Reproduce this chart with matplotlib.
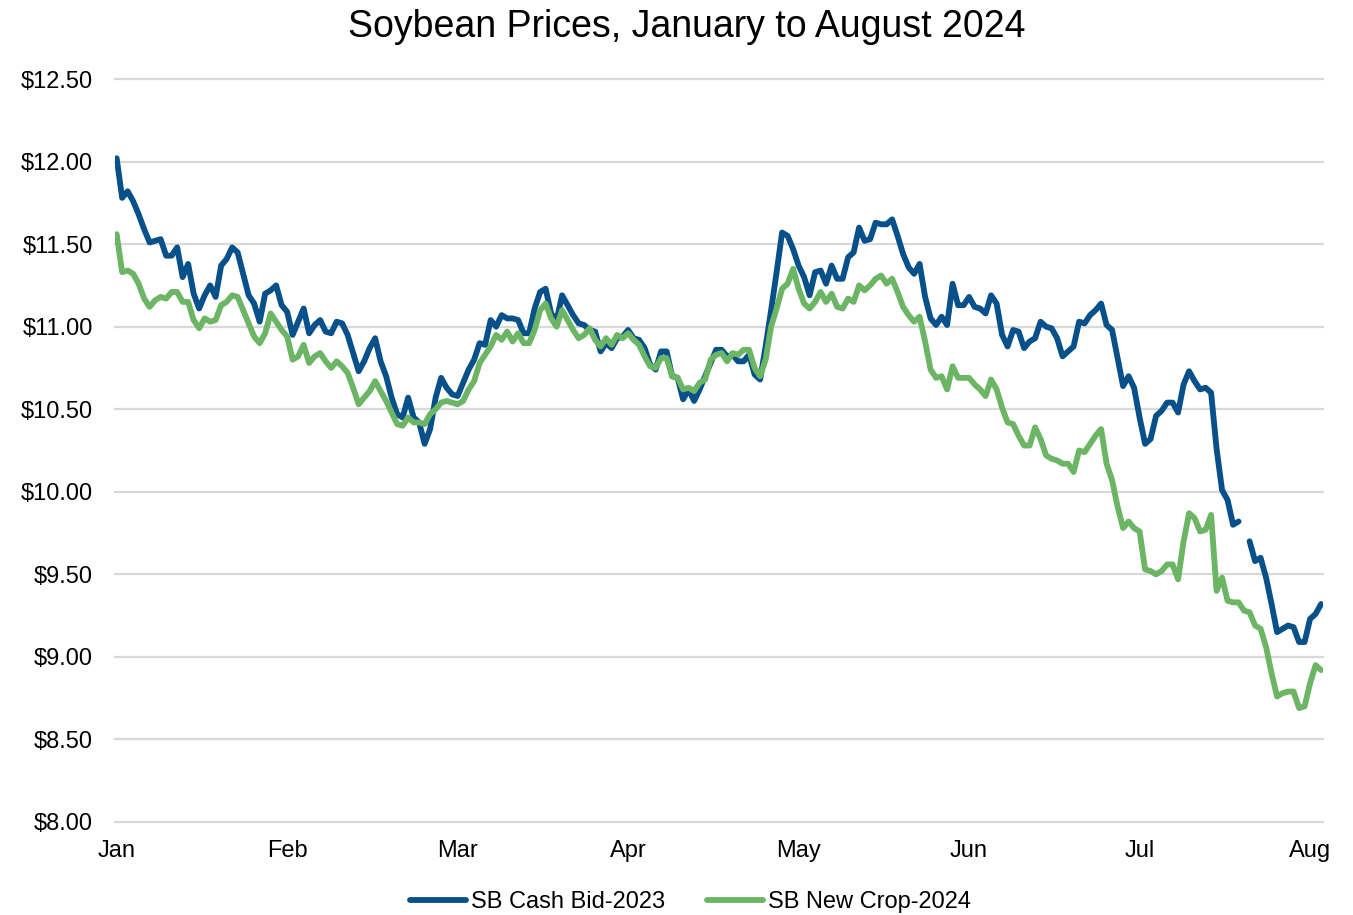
import numpy as np
import matplotlib
matplotlib.use("Agg")
import matplotlib.pyplot as plt

title = "Soybean Prices, January to August 2024"
series_names = ["SB Cash Bid-2023", "SB New Crop-2024"]
month_labels = ["Jan", "Feb", "Mar", "Apr", "May", "Jun", "Jul", "Aug"]
month_tick_index = [0, 31, 62, 93, 124, 155, 186, 217]
y_ticks = [8.0, 8.5, 9.0, 9.5, 10.0, 10.5, 11.0, 11.5, 12.0, 12.5]

cash_bid_2023 = [
    12.02, 11.78, 11.82, 11.76, 11.68, 11.59, 11.51, 11.52, 11.53, 11.43,
    11.43, 11.48, 11.30, 11.38, 11.20, 11.11, 11.19, 11.25, 11.18, 11.37,
    11.41, 11.48, 11.45, 11.32, 11.19, 11.14, 11.03, 11.20, 11.22, 11.25,
    11.13, 11.09, 10.95, 11.03, 11.11, 10.96, 11.01, 11.04, 10.97, 10.96,
    11.03, 11.02, 10.95, 10.84, 10.73, 10.79, 10.87, 10.93, 10.79, 10.70,
    10.57, 10.47, 10.45, 10.57, 10.45, 10.42, 10.29, 10.38, 10.57, 10.69,
    10.63, 10.59, 10.58, 10.66, 10.74, 10.80, 10.90, 10.89, 11.04, 11.00,
    11.07, 11.05, 11.05, 11.04, 10.96, 10.96, 11.11, 11.21, 11.23, 11.08,
    11.04, 11.19, 11.13, 11.07, 11.02, 11.01, 10.98, 10.97, 10.85, 10.90,
    10.87, 10.93, 10.94, 10.98, 10.93, 10.92, 10.87, 10.77, 10.74, 10.85,
    10.85, 10.70, 10.69, 10.56, 10.62, 10.55, 10.62, 10.70, 10.78, 10.86,
    10.86, 10.82, 10.83, 10.79, 10.79, 10.83, 10.71, 10.68, 10.88, 11.10,
    11.33, 11.57, 11.55, 11.47, 11.37, 11.30, 11.19, 11.33, 11.34, 11.26,
    11.37, 11.29, 11.29, 11.42, 11.45, 11.60, 11.52, 11.53, 11.63, 11.62,
    11.62, 11.65, 11.55, 11.44, 11.36, 11.32, 11.38, 11.18, 11.05, 11.01,
    11.06, 11.01, 11.26, 11.13, 11.13, 11.18, 11.12, 11.11, 11.08, 11.19,
    11.14, 10.95, 10.88, 10.98, 10.97, 10.87, 10.91, 10.93, 11.03, 11.00,
    10.99, 10.93, 10.82, 10.85, 10.88, 11.03, 11.02, 11.07, 11.10, 11.14,
    11.01, 10.98, 10.81, 10.64, 10.70, 10.63, 10.45, 10.29, 10.32, 10.46,
    10.49, 10.54, 10.54, 10.48, 10.65, 10.73, 10.67, 10.62, 10.63, 10.60,
    10.26, 10.01, 9.95, 9.80, 9.82, None, 9.70, 9.58, 9.60, 9.48,
    9.32, 9.15, 9.17, 9.19, 9.18, 9.09, 9.09, 9.23, 9.26, 9.32,
]

new_crop_2024 = [
    11.56, 11.33, 11.34, 11.32, 11.26, 11.17, 11.12, 11.16, 11.18, 11.17,
    11.21, 11.21, 11.15, 11.15, 11.04, 10.99, 11.05, 11.03, 11.04, 11.13,
    11.15, 11.19, 11.18, 11.10, 11.02, 10.94, 10.90, 10.96, 11.08, 11.03,
    10.98, 10.94, 10.80, 10.82, 10.89, 10.78, 10.82, 10.84, 10.79, 10.75,
    10.79, 10.76, 10.72, 10.63, 10.53, 10.57, 10.61, 10.67, 10.61, 10.55,
    10.48, 10.41, 10.40, 10.45, 10.42, 10.42, 10.41, 10.47, 10.50, 10.54,
    10.55, 10.54, 10.53, 10.55, 10.62, 10.67, 10.78, 10.83, 10.88, 10.95,
    10.92, 10.97, 10.91, 10.96, 10.90, 10.90, 10.98, 11.10, 11.14, 11.05,
    11.00, 11.10, 11.04, 10.98, 10.93, 10.95, 10.99, 10.92, 10.88, 10.93,
    10.89, 10.95, 10.93, 10.96, 10.92, 10.89, 10.82, 10.76, 10.75, 10.81,
    10.81, 10.70, 10.69, 10.62, 10.63, 10.61, 10.66, 10.68, 10.80, 10.83,
    10.84, 10.79, 10.84, 10.83, 10.86, 10.86, 10.75, 10.70, 10.80, 11.00,
    11.11, 11.23, 11.26, 11.35, 11.23, 11.14, 11.11, 11.15, 11.21, 11.15,
    11.20, 11.12, 11.11, 11.17, 11.15, 11.25, 11.22, 11.25, 11.29, 11.31,
    11.26, 11.29, 11.21, 11.12, 11.07, 11.03, 11.06, 10.91, 10.74, 10.69,
    10.70, 10.62, 10.76, 10.69, 10.69, 10.69, 10.65, 10.62, 10.58, 10.68,
    10.62, 10.51, 10.42, 10.41, 10.34, 10.28, 10.28, 10.39, 10.32, 10.22,
    10.20, 10.19, 10.17, 10.17, 10.12, 10.25, 10.24, 10.29, 10.34, 10.38,
    10.17, 10.07, 9.91, 9.78, 9.82, 9.78, 9.76, 9.53, 9.52, 9.50,
    9.52, 9.56, 9.56, 9.47, 9.70, 9.87, 9.84, 9.76, 9.77, 9.86,
    9.40, 9.48, 9.34, 9.33, 9.33, 9.28, 9.27, 9.19, 9.17, 9.06,
    8.90, 8.76, 8.78, 8.79, 8.79, 8.69, 8.70, 8.84, 8.95, 8.92,
]

colors = ["#07508A", "#6BB564"]

plt.rcParams["font.family"] = ["Liberation Sans", "DejaVu Sans"]

fig = plt.figure(figsize=(13.53, 9.15), dpi=100)
ax = fig.add_axes([115 / 1353, 1 - 822 / 915, (1323 - 115) / 1353, (822 - 79) / 915])

series = [cash_bid_2023, new_crop_2024]
lines = []
for vals, name, col in zip(series, series_names, colors):
    y = np.array([np.nan if v is None else v for v in vals], dtype=float)
    x = np.arange(len(y))
    ln, = ax.plot(x, y, color=col, lw=4.2, label=name,
                  solid_capstyle="round", solid_joinstyle="round", zorder=3)
    lines.append(ln)

n = len(cash_bid_2023)
ax.set_xlim(-0.3, n - 1 + 0.35)
ax.set_ylim(8.0, 12.5)
ax.set_yticks(y_ticks)
ax.set_yticklabels([f"${v:.2f}" for v in y_ticks])
ax.set_xticks(month_tick_index)
ax.set_xticklabels(month_labels)
ax.tick_params(axis="both", length=0, labelsize=17, colors="black")
ax.tick_params(axis="y", pad=16)
ax.tick_params(axis="x", pad=13)

for s in ax.spines.values():
    s.set_visible(False)
ax.grid(axis="y", color="#D9D9D9", lw=1.6, zorder=0)
ax.grid(axis="x", visible=False)
for gl in ax.get_ygridlines():
    gl.set_clip_on(False)
ax.set_axisbelow(True)

fig.text(686.5 / 1353, 1 - 27 / 915, title, ha="center", va="center", fontsize=27)

fig.legend(handles=lines, labels=series_names, loc="center",
           bbox_to_anchor=(690.5 / 1353, 1 - 902 / 915), ncol=2, frameon=False,
           fontsize=17, handlelength=2.35, handletextpad=0.2, columnspacing=1.8)

fig.savefig("out.png", dpi=100)
